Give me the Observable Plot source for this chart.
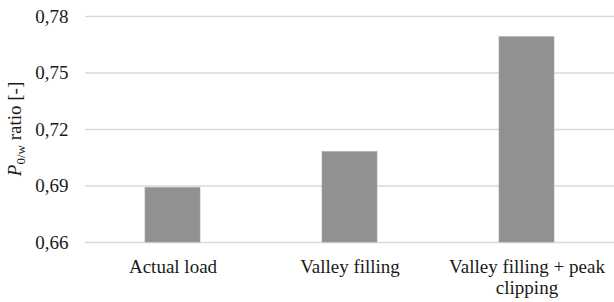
<!DOCTYPE html>
<html>
<head>
<meta charset="utf-8">
<script src="https://cdn.jsdelivr.net/npm/d3@7"></script>
<script src="https://cdn.jsdelivr.net/npm/@observablehq/plot@0.6"></script>
<style>
  html, body { margin: 0; padding: 0; background: #fff; }
  svg { display: block; }
  #chart svg, #chart svg text { font-family: "Liberation Serif", "DejaVu Serif", "Times New Roman", Times, serif !important; }
</style>
</head>
<body>
<div id="chart"></div>
<script>
const categories = ["Actual load", "Valley filling", "Valley filling + peak clipping"];
const tickLabels = ["Actual load", "Valley filling", "Valley filling + peak\nclipping"];
const values = [0.689, 0.708, 0.769];
const yTicks = [0.66, 0.69, 0.72, 0.75, 0.78];

const data = categories.map((c, i) => ({category: c, value: values[i]}));
const fmt = d => d.toFixed(2).replace(".", ",");

const chart = Plot.plot({
  width: 614,
  height: 302,
  marginLeft: 85,
  marginRight: 0,
  marginTop: 16,
  marginBottom: 60,
  style: {fontSize: "19px", color: "#1a1a1a", background: "#fff"},
  x: {domain: categories, paddingInner: 0.69, paddingOuter: 0.335, label: null},
  y: {domain: [0.66, 0.78], label: null},
  marks: [
    Plot.ruleY(yTicks, {stroke: "#d9d9d9", strokeWidth: 1.3}),
    Plot.barY(data, {x: "category", y1: 0.66, y2: "value", fill: "#919191", stroke: "#a0a0a0", strokeWidth: 0.6}),
    Plot.axisY({ticks: yTicks, tickFormat: fmt, tickSize: 0, tickPadding: 17, fontSize: 19, label: null}),
    Plot.axisX({tickSize: 0, tickPadding: 16, fontSize: 19, lineHeight: 1.08, tickFormat: d => tickLabels[categories.indexOf(d)], label: null})
  ]
});

// Y axis title with italic P and subscript
const svg = d3.select(chart);
const t = svg.append("text")
  .attr("transform", "translate(21,129) rotate(-90)")
  .attr("text-anchor", "middle")
  .attr("fill", "#1a1a1a")
  .attr("font-size", 19);
t.append("tspan").attr("font-style", "italic").text("P");
t.append("tspan").attr("font-size", 13).attr("dy", "0.3em").text("0/w");
t.append("tspan").attr("dy", "-0.22em").text(" ratio [-]");

document.getElementById("chart").appendChild(chart);
</script>
</body>
</html>
